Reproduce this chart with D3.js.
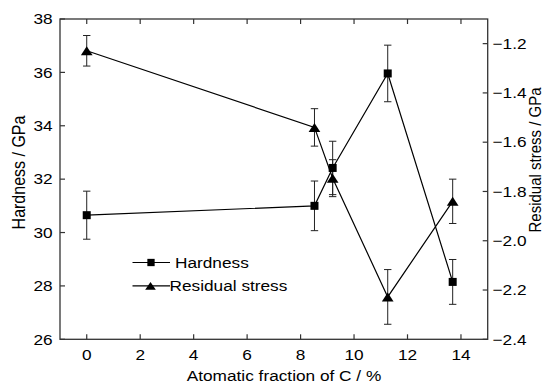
<!DOCTYPE html>
<html>
<head>
<meta charset="utf-8">
<script src="https://cdn.jsdelivr.net/npm/d3@7"></script>
<style>
  body { margin: 0; background: #fff; }
  text { font-family: "Liberation Sans", Arial, sans-serif; fill: #000; }
</style>
</head>
<body>
<div id="chart"></div>
<script>
// values
const carbon = [0, 8.52, 9.2, 11.26, 13.69];
const hardness = [30.65, 31.0, 32.42, 35.96, 28.15];
const hardnessErr = [0.9, 0.93, 1.0, 1.06, 0.84];
const stress = [-1.229, -1.54, -1.746, -2.228, -1.84];
const stressErr = [0.062, 0.076, 0.075, 0.111, 0.09];

const xTicks = [0, 2, 4, 6, 8, 10, 12, 14];
const hTicks = [26, 28, 30, 32, 34, 36, 38];
const sTicks = [-2.4, -2.2, -2.0, -1.8, -1.6, -1.4, -1.2];

let width = 544, height = 383;
let margin = {top: 19, right: 56.3, bottom: 43.7, left: 60};
let stretch = 1.15; // text in the figure is a bit wide

let svg = d3.select('#chart').append('svg')
  .attr('width', width).attr('height', height);

let x = d3.scaleLinear().domain([-1, 15]).range([margin.left, width - margin.right]);
let yH = d3.scaleLinear().domain([26, 38]).range([height - margin.bottom, margin.top]);
let yS = d3.scaleLinear().domain([-2.4, -1.1]).range([height - margin.bottom, margin.top]);

/// label helper, horizontally stretched text
function label(tx, ty, str, anchor, rot, size) {
  svg.append('text')
    .attr('transform', 'translate(' + tx + ',' + ty + ') scale(' + stretch + ',1)' + (rot ? ' rotate(' + rot + ')' : ''))
    .attr('text-anchor', anchor)
    .style('font-size', (size || 15) + 'px')
    .text(str);
}

let x0 = x.range()[0], x1 = x.range()[1];
let y0 = yH.range()[0], y1 = yH.range()[1];

/// frame
let axisColor = '#333';
svg.append('rect')
  .attr('x', x0).attr('y', y1)
  .attr('width', x1 - x0).attr('height', y0 - y1)
  .attr('fill', 'none').attr('stroke', axisColor).attr('stroke-width', 1.3);

/// ticks pointing inward
let tk = 5;
xTicks.forEach(function(t) {
  svg.append('line').attr('x1', x(t)).attr('x2', x(t)).attr('y1', y0).attr('y2', y0 - tk)
    .attr('stroke', axisColor).attr('stroke-width', 1.2);
  svg.append('line').attr('x1', x(t)).attr('x2', x(t)).attr('y1', y1).attr('y2', y1 + tk)
    .attr('stroke', axisColor).attr('stroke-width', 1.2);
  label(x(t), 360, d3.format('d')(t), 'middle');
});
hTicks.forEach(function(t) {
  svg.append('line').attr('x1', x0).attr('x2', x0 + tk).attr('y1', yH(t)).attr('y2', yH(t))
    .attr('stroke', axisColor).attr('stroke-width', 1.2);
  label(52.7, yH(t) + 5.3, t, 'end');
});
sTicks.forEach(function(t) {
  svg.append('line').attr('x1', x1).attr('x2', x1 - tk).attr('y1', yS(t)).attr('y2', yS(t))
    .attr('stroke', axisColor).attr('stroke-width', 1.2);
  label(492.5, yS(t) + 5.3, d3.format('.1f')(t), 'start');
});

/// axis titles
label(284, 380.5, 'Atomatic fraction of C / %', 'middle');
label(25, 172.5, 'Hardness / GPa', 'middle', -90, 16);
label(540.5, 160, 'Residual stress / GPa', 'middle', -90);

/// series
let hData = carbon.map(function(c, i) { return {x: c, y: hardness[i], e: hardnessErr[i]}; });
let sData = carbon.map(function(c, i) { return {x: c, y: stress[i], e: stressErr[i]}; });

function errorBars(data, scale) {
  let g = svg.append('g').attr('stroke', '#222').attr('stroke-width', 1);
  data.forEach(function(d) {
    let px = x(d.x), top = scale(d.y + d.e), bot = scale(d.y - d.e);
    g.append('line').attr('x1', px).attr('x2', px).attr('y1', top).attr('y2', bot);
    g.append('line').attr('x1', px - 3.7).attr('x2', px + 3.7).attr('y1', top).attr('y2', top);
    g.append('line').attr('x1', px - 3.7).attr('x2', px + 3.7).attr('y1', bot).attr('y2', bot);
  });
}

function seriesLine(data, scale) {
  svg.append('path').datum(data)
    .attr('fill', 'none').attr('stroke', '#000').attr('stroke-width', 1.2)
    .attr('d', d3.line().x(function(d) { return x(d.x); }).y(function(d) { return scale(d.y); }));
}

function square(px, py, s) {
  svg.append('rect').attr('x', px - s / 2).attr('y', py - s / 2)
    .attr('width', s).attr('height', s).attr('fill', '#000');
}

function triangle(px, py, w, h) {
  svg.append('path')
    .attr('d', 'M' + px + ',' + (py - h / 2) + 'L' + (px + w / 2) + ',' + (py + h / 2) + 'L' + (px - w / 2) + ',' + (py + h / 2) + 'Z')
    .attr('fill', '#000');
}

errorBars(hData, yH);
errorBars(sData, yS);
seriesLine(hData, yH);
seriesLine(sData, yS);
hData.forEach(function(d) { square(x(d.x), yH(d.y), 8); });
sData.forEach(function(d) { triangle(x(d.x), yS(d.y), 11.7, 9); });

/// legend
let legendRows = [
  {name: 'Hardness', y: 262.5, kind: 'square', textX: 175},
  {name: 'Residual stress', y: 285.8, kind: 'triangle', textX: 169.5}
];
legendRows.forEach(function(r) {
  svg.append('line').attr('x1', 132.5).attr('x2', 170).attr('y1', r.y).attr('y2', r.y)
    .attr('stroke', '#000').attr('stroke-width', 1.2);
  if (r.kind === 'square') square(151, r.y, 7.3);
  else triangle(150.5, r.y, 10.7, 7.7);
  label(r.textX, r.y + 5.4, r.name, 'start');
});
</script>
</body>
</html>
